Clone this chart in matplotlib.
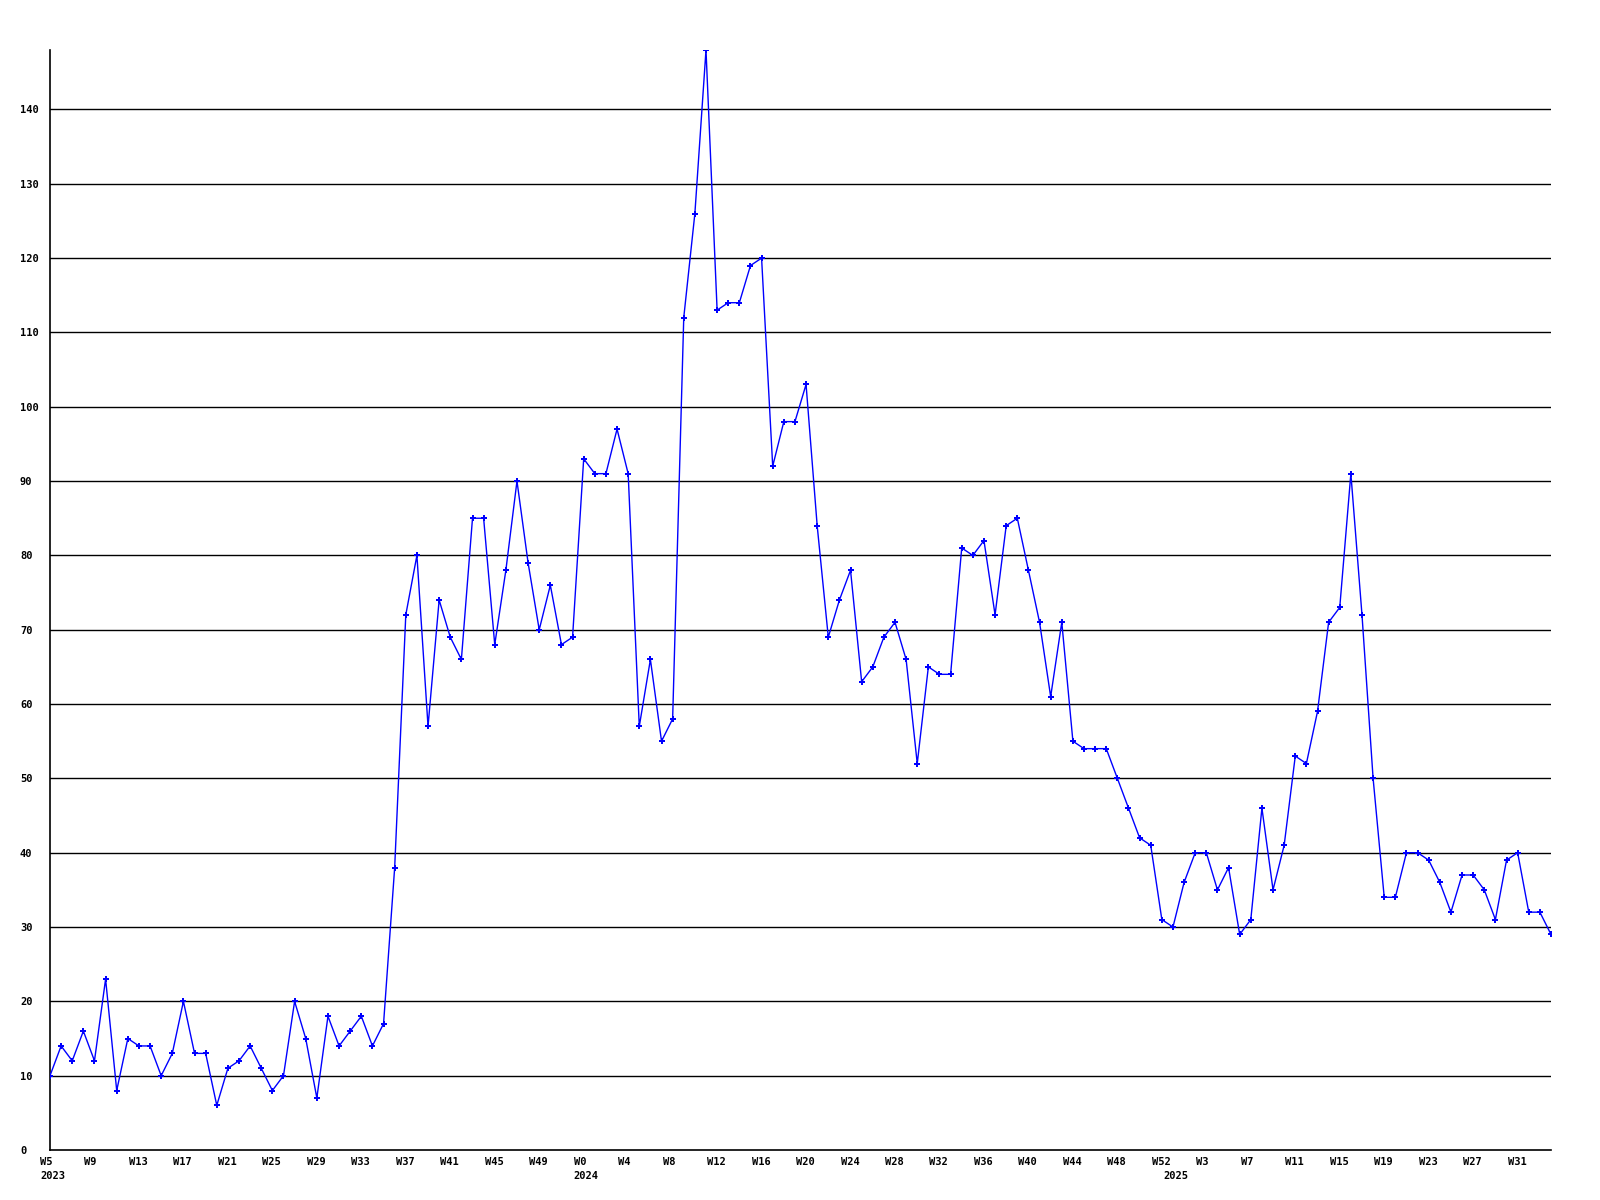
import matplotlib
matplotlib.use('Agg')
import matplotlib.pyplot as plt
from matplotlib.transforms import ScaledTranslation

# weekly counts, 2023 W5 .. 2025 W34
values_2023 = [10, 14, 12, 16, 12, 23, 8, 15, 14, 14, 10, 13, 20, 13, 13, 6,
               11, 12, 14, 11, 8, 10, 20, 15, 7, 18, 14, 16, 18, 14, 17, 38,
               72, 80, 57, 74, 69, 66, 85, 85, 68, 78, 90, 79, 70, 76, 68, 69]
values_2024 = [93, 91, 91, 97, 91, 57, 66, 55, 58, 112, 126, 148, 113, 114, 114, 119,
               120, 92, 98, 98, 103, 84, 69, 74, 78, 63, 65, 69, 71, 66, 52, 65,
               64, 64, 81, 80, 82, 72, 84, 85, 78, 71, 61, 71, 55, 54, 54, 54,
               50, 46, 42, 41, 31]
values_2025 = [30, 36, 40, 40, 35, 38, 29, 31, 46, 35, 41, 53, 52, 59, 71, 73,
               91, 72, 50, 34, 34, 40, 40, 39, 36, 32, 37, 37, 35, 31, 39, 40,
               32, 32, 29]

tick_labels = ['W5', 'W9', 'W13', 'W17', 'W21', 'W25', 'W29', 'W33', 'W37', 'W41',
               'W45', 'W49', 'W0', 'W4', 'W8', 'W12', 'W16', 'W20', 'W24', 'W28',
               'W32', 'W36', 'W40', 'W44', 'W48', 'W52', 'W3', 'W7', 'W11', 'W15',
               'W19', 'W23', 'W27', 'W31']
years = ['2023', '2024', '2025']
y_ticks = [0, 10, 20, 30, 40, 50, 60, 70, 80, 90, 100, 110, 120, 130, 140]

values = values_2023 + values_2024 + values_2025
x = list(range(len(values)))
year_start = [0, len(values_2023), len(values_2023) + len(values_2024)]

font = {'family': 'DejaVu Sans Mono', 'weight': 'bold', 'size': 7.5}

fig = plt.figure(figsize=(16, 12), dpi=100)
ax = fig.add_axes([50/1600, 50/1200, 1501/1600, 1100/1200])

for v in y_ticks[1:]:
    ax.axhline(v, color='black', lw=1.0, zorder=1)

ax.plot(x, values, color='#0000ff', lw=1.0, marker='P', markersize=4.2,
        markeredgewidth=0, zorder=3, clip_on=True)

ax.set_xlim(0, len(values) - 1)
ax.set_ylim(0, max(values))

for s in ['top', 'right']:
    ax.spines[s].set_visible(False)
for s in ['left', 'bottom']:
    ax.spines[s].set_color('black')
    ax.spines[s].set_linewidth(1.2)

ax.set_yticks(y_ticks)
ax.set_yticklabels([str(v) for v in y_ticks], fontdict=font)
ax.tick_params(axis='y', length=0, pad=21.6)
for lab in ax.get_yticklabels():
    lab.set_ha('left')

ax.set_xticks(x[::4])
ax.set_xticklabels(tick_labels, fontdict=font, ha='left')
ax.tick_params(axis='x', length=0, pad=5)
shift = ScaledTranslation(-10/100, 0, fig.dpi_scale_trans)
for lab in ax.get_xticklabels():
    lab.set_transform(lab.get_transform() + shift)

for pos, yr in zip(year_start, years):
    ax.text(pos, 0, yr, fontdict=font, ha='left', va='top',
            transform=ax.get_xaxis_transform() + ScaledTranslation(-10/100, -21/100, fig.dpi_scale_trans))

fig.savefig('out.png', dpi=100)
